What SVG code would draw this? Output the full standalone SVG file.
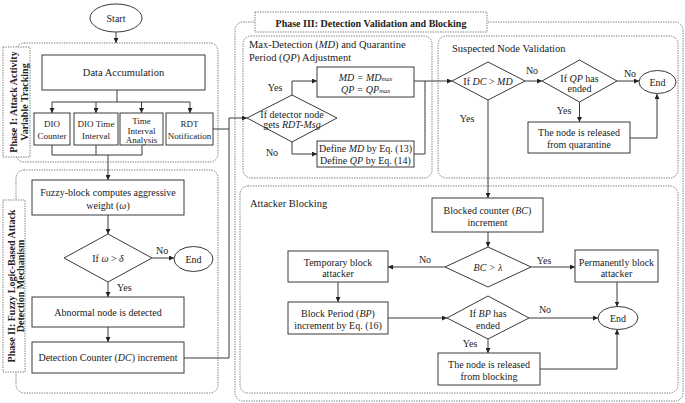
<svg xmlns="http://www.w3.org/2000/svg" width="685" height="403" viewBox="0 0 685 403">
<defs>
<style>
.b{fill:#fff;stroke:#3a3a3a;stroke-width:1}
.d{fill:none;stroke:#666;stroke-width:0.9;stroke-dasharray:1.3 1.2}
.dw{fill:#fff;stroke:#666;stroke-width:0.9;stroke-dasharray:1.3 1.2}
.c{fill:none;stroke:#3a3a3a;stroke-width:1}
.a{marker-end:url(#arr)}
text{font-family:"Liberation Serif","Times New Roman",serif;font-size:10px;fill:#222}
.m{text-anchor:middle}
.t{font-size:10.5px}
.h{font-weight:bold;font-size:10px}
.i{font-style:italic}
.s{font-size:6.5px;font-style:italic}
.sm{font-size:9px}
</style>
<marker id="arr" viewBox="0 0 8 8" refX="8" refY="4" markerWidth="5" markerHeight="5" orient="auto" markerUnits="userSpaceOnUse">
<path d="M0,0 L8,4 L0,8 z" fill="#222"/>
</marker>
</defs>
<rect width="685" height="403" fill="#fff"/>

<!-- Containers -->
<g id="phase1">
<rect class="d" x="16" y="43" width="202" height="119" rx="8"/>
<rect class="dw" x="3" y="47" width="27" height="110"/>
<text class="h m" transform="translate(16.5,102) rotate(-90)">Phase I: Attack Activity</text>
<text class="h m" transform="translate(27.5,102) rotate(-90)">Variable Tracking</text>
</g>
<g id="phase2">
<rect class="d" x="16" y="170" width="202" height="223" rx="8"/>
<rect class="dw" x="3" y="200" width="22" height="172"/>
<text class="h m" transform="translate(14.5,286) rotate(-90)">Phase II: Fuzzy Logic-Based Attack</text>
<text class="h m" transform="translate(24,286) rotate(-90)">Detection Mechanism</text>
</g>
<g id="phase3">
<rect class="d" x="235" y="22" width="448" height="379" rx="8"/>
<rect class="dw" x="255" y="12" width="232" height="20"/>
<text class="h m" x="371" y="26.5">Phase III: Detection Validation and Blocking</text>
</g>
<g id="mdqp-section">
<rect class="d" x="243" y="36" width="189" height="142" rx="8"/>
<text class="t" x="249" y="48">Max-Detection (<tspan class="i">MD</tspan>) and Quarantine</text>
<text class="t" x="249" y="60.5">Period (<tspan class="i">QP</tspan>) Adjustment</text>
</g>
<g id="validation-section">
<rect class="d" x="438" y="36" width="240" height="142" rx="8"/>
<text class="t" x="452" y="51.5">Suspected Node Validation</text>
</g>
<g id="blocking-section">
<rect class="d" x="240" y="186" width="438" height="207" rx="8"/>
<text class="t" x="250" y="206.5">Attacker Blocking</text>
</g>

<!-- Connectors -->
<g id="connectors">
<path class="c a" d="M116,32 V43"/>
<path class="c" d="M117,90 V102 M52,102 H190"/>
<path class="c a" d="M52,102 V113"/>
<path class="c a" d="M96,102 V113"/>
<path class="c a" d="M141.5,102 V113"/>
<path class="c a" d="M190,102 V113"/>
<path class="c" d="M52,145 V155 H142 V145 M96,145 V155"/>
<path class="c a" d="M108,155 V180"/>
<path class="c a" d="M108,215 V234"/>
<path class="c a" d="M152,258 H174"/>
<path class="c a" d="M108,282 V297"/>
<path class="c a" d="M108,327 V342"/>
<path class="c" d="M184,358 H229 V118 M213,129 H229"/>
<path class="c a" d="M229,118 H247"/>
<path class="c a" d="M292,95 V81 H317"/>
<path class="c a" d="M292,142 V154 H317"/>
<path class="c" d="M414,154 H425 V81"/>
<path class="c a" d="M414,81 H452"/>
<path class="c a" d="M525,81 H542"/>
<path class="c a" d="M617,81 H639"/>
<path class="c a" d="M579.5,102 V122"/>
<path class="c a" d="M630,138 H657 V94"/>
<path class="c a" d="M488,100 V198"/>
<path class="c a" d="M488,232 V247"/>
<path class="c a" d="M445,267 H388"/>
<path class="c a" d="M531,267 H575"/>
<path class="c a" d="M338,282 V302"/>
<path class="c a" d="M388,318 H447"/>
<path class="c a" d="M529,318 H598"/>
<path class="c a" d="M617,282 V306.5"/>
<path class="c a" d="M488,339 V353"/>
<path class="c a" d="M540,369 H617 V329.5"/>
<text x="156" y="254">No</text>
<text x="117" y="290.5">Yes</text>
<text class="m" x="275" y="90.5">Yes</text>
<text class="m" x="272" y="155.5">No</text>
<text class="m" x="532" y="73.5">No</text>
<text class="m" x="630" y="76.5">No</text>
<text class="m" x="564" y="114">Yes</text>
<text class="m" x="467" y="121.5">Yes</text>
<text class="m" x="425" y="262.5">No</text>
<text class="m" x="544" y="263.5">Yes</text>
<text class="m" x="545" y="312.5">No</text>
<text class="m" x="470" y="346.5">Yes</text>
</g>

<!-- Nodes -->
<g id="start">
<ellipse class="b" cx="116" cy="18" rx="26" ry="14"/>
<text class="m" x="116" y="21.5">Start</text>
</g>
<g id="data-accumulation">
<rect class="b" x="42" y="55" width="163" height="35"/>
<text class="m t" x="123.5" y="76">Data Accumulation</text>
</g>
<g id="dio-counter">
<rect class="b" x="34" y="113" width="36" height="32"/>
<text class="m sm" x="52" y="127">DIO</text>
<text class="m sm" x="52" y="139">Counter</text>
</g>
<g id="dio-time-interval">
<rect class="b" x="74" y="113" width="44" height="32"/>
<text class="m sm" x="96" y="127">DIO Time</text>
<text class="m sm" x="96" y="139">Interval</text>
</g>
<g id="time-interval-analysis">
<rect class="b" x="120" y="113" width="43" height="32"/>
<text class="m sm" x="141.5" y="124">Time</text>
<text class="m sm" x="141.5" y="133.5">Interval</text>
<text class="m sm" x="141.5" y="143">Analysis</text>
</g>
<g id="rdt-notification">
<rect class="b" x="166" y="113" width="47" height="32"/>
<text class="m sm" x="189.5" y="127">RDT</text>
<text class="m sm" x="189.5" y="139">Notification</text>
</g>
<g id="fuzzy-block">
<rect class="b" x="32" y="180" width="152" height="35"/>
<text class="m" x="108" y="195.5">Fuzzy-block computes aggressive</text>
<text class="m" x="108" y="208.5">weight (<tspan class="i">ω</tspan>)</text>
</g>
<g id="omega-check">
<polygon class="b" points="64,258 108,234 152,258 108,282"/>
<text class="m" x="108" y="261.5">If <tspan class="i">ω</tspan> &gt; <tspan class="i">δ</tspan></text>
</g>
<g id="end1">
<ellipse class="b" cx="193.5" cy="259" rx="19.5" ry="12.5"/>
<text class="m" x="193.5" y="262.5">End</text>
</g>
<g id="abnormal-node">
<rect class="b" x="32" y="297" width="152" height="30"/>
<text class="m" x="108" y="315.5">Abnormal node is detected</text>
</g>
<g id="detection-counter">
<rect class="b" x="32" y="342" width="152" height="31"/>
<text class="m" x="108" y="361">Detection Counter (<tspan class="i">DC</tspan>) increment</text>
</g>
<g id="rdt-msg-check">
<polygon class="b" points="247,118 292,95 337,118 292,142"/>
<text class="m" x="292" y="117.5">If detector node</text>
<text class="m" x="292" y="128">gets <tspan class="i">RDT-Msg</tspan></text>
</g>
<g id="md-max">
<rect class="b" x="317" y="67" width="97" height="30"/>
<text class="m i" x="365.5" y="80.5">MD = MD<tspan class="s">max</tspan></text>
<text class="m i" x="365.5" y="92.5">QP = QP<tspan class="s">max</tspan></text>
</g>
<g id="md-define">
<rect class="b" x="317" y="141" width="97" height="26"/>
<text class="m" x="365.5" y="151.5">Define <tspan class="i">MD</tspan> by Eq. (13)</text>
<text class="m" x="365.5" y="163.5">Define <tspan class="i">QP</tspan> by Eq. (14)</text>
</g>
<g id="dc-md-check">
<polygon class="b" points="452,81 488,62 525,81 488,100"/>
<text class="m" x="488" y="84.5">If <tspan class="i">DC</tspan> &gt; <tspan class="i">MD</tspan></text>
</g>
<g id="qp-check">
<polygon class="b" points="542,81 579.5,60 617,81 579.5,102"/>
<text class="m" x="579.5" y="81.5">If <tspan class="i">QP</tspan> has</text>
<text class="m" x="579.5" y="92">ended</text>
</g>
<g id="end2">
<ellipse class="b" cx="657.5" cy="82" rx="18.5" ry="11.5"/>
<text class="m" x="657.5" y="85.5">End</text>
</g>
<g id="release-quarantine">
<rect class="b" x="528" y="122" width="102" height="31"/>
<text class="m" x="579" y="135.5">The node is released</text>
<text class="m" x="579" y="148">from quarantine</text>
</g>
<g id="blocked-counter">
<rect class="b" x="432" y="198" width="111" height="34"/>
<text class="m" x="487.5" y="213.5">Blocked counter (<tspan class="i">BC</tspan>)</text>
<text class="m" x="487.5" y="225.5">increment</text>
</g>
<g id="bc-check">
<polygon class="b" points="445,267 488,247 531,267 488,287"/>
<text class="m i" x="488" y="270.5">BC &gt; λ</text>
</g>
<g id="temporary-block">
<rect class="b" x="288" y="251" width="100" height="31"/>
<text class="m" x="338" y="265.5">Temporary block</text>
<text class="m" x="338" y="276.5">attacker</text>
</g>
<g id="permanent-block">
<rect class="b" x="575" y="250" width="83" height="32"/>
<text class="m" x="616.5" y="265.5">Permanently block</text>
<text class="m" x="616.5" y="276.5">attacker</text>
</g>
<g id="block-period">
<rect class="b" x="288" y="302" width="100" height="32"/>
<text class="m" x="338" y="316.5">Block Period (<tspan class="i">BP</tspan>)</text>
<text class="m" x="338" y="328.5">increment by Eq. (16)</text>
</g>
<g id="bp-check">
<polygon class="b" points="447,318 488,296 529,318 488,339"/>
<text class="m" x="488" y="316.5">If <tspan class="i">BP</tspan> has</text>
<text class="m" x="488" y="328.5">ended</text>
</g>
<g id="end3">
<ellipse class="b" cx="618" cy="318" rx="20" ry="11.5"/>
<text class="m" x="618" y="321.5">End</text>
</g>
<g id="release-blocking">
<rect class="b" x="438" y="353" width="102" height="32"/>
<text class="m" x="489" y="367.5">The node is released</text>
<text class="m" x="489" y="379.5">from blocking</text>
</g>
</svg>
